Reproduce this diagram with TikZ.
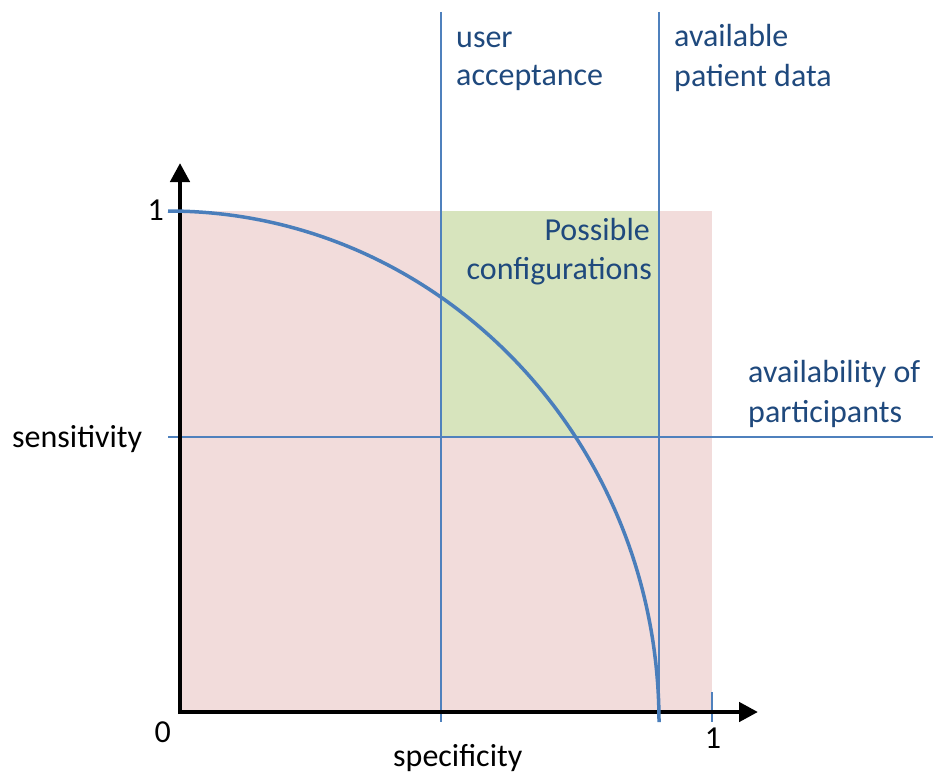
\documentclass[tikz,border=0pt]{standalone}
\usepackage{fontspec}
\setmainfont{Carlito}
\usetikzlibrary{arrows.meta}
\definecolor{pinkbg}{HTML}{F2DCDB}
\definecolor{greenbg}{HTML}{D7E4BD}
\definecolor{lineblue}{HTML}{4F81BD}
\definecolor{curveblue}{HTML}{4A7EBB}
\definecolor{textblue}{HTML}{1F497D}
\tikzset{
  px/.style={x=1pt,y=-1pt},
  bluelabel/.style={font=\fontsize{32}{39}\selectfont, text=textblue, inner sep=0pt, anchor=base west},
  blacklabel/.style={font=\fontsize{32}{39}\selectfont, text=black, inner sep=0pt},
  guide/.style={draw=lineblue, line width=1.2pt},
  axis/.style={draw=black, line width=4.5pt, -{Triangle[length=19pt,width=19pt]}},
  frontier/.style={draw=curveblue, line width=3.5pt},
}
\begin{document}
\begin{tikzpicture}[px]
\useasboundingbox (0,0) rectangle (933,776);
% regions
\fill[pinkbg] (180,211) rectangle (712,712);
\fill[greenbg] (441,211) rectangle (659,437);
% coordinates
\coordinate (ytip) at (180,163);
\coordinate (xtip) at (758,712);
\coordinate (ua1) at (441,12);
\coordinate (ua2) at (441,722);
\coordinate (pd1) at (659,12);
\coordinate (pd2) at (659,722);
\coordinate (ap1) at (168,437);
\coordinate (ap2) at (933,437);
\coordinate (t1) at (712,692);
\coordinate (t2) at (712,722);
\coordinate (c0) at (168,211);
\coordinate (c1) at (659,722);
\coordinate (yb) at (180,714);
\coordinate (xb) at (178,712);
% guide lines
\draw[guide] (ua1) -- (ua2);
\draw[guide] (pd1) -- (pd2);
\draw[guide] (ap1) -- (ap2);
\draw[guide] (t1) -- (t2);
% axes
\draw[axis] (yb) -- (ytip);
\draw[axis] (xb) -- (xtip);
% curve
\draw[frontier] (c0) .. controls (439.2,211) and (659,439.8) .. (c1);
% labels
\node[bluelabel] (ua) at (456,48) {user};
\node[bluelabel] (ub) at (456,85) {acceptance};
\node[bluelabel] (pa) at (674,47) {available};
\node[bluelabel] (pb) at (674,86) {patient data};
\node[bluelabel] (aa) at (748,382) {availability of};
\node[bluelabel] (ab) at (748,422) {participants};
\node[bluelabel, anchor=base east] (pc1) at (650,240) {Possible};
\node[bluelabel, anchor=base east] (pc2) at (652,279) {configurations};
\node[blacklabel, anchor=base west] (sens) at (12,447) {sensitivity};
\node[blacklabel, anchor=base west] (spec) at (393,766) {specificity};
\node[blacklabel, anchor=base east] (one1) at (164,220) {1};
\node[blacklabel, anchor=base east] (zero) at (171,742) {0};
\node[blacklabel, anchor=base] (one2) at (713,748) {1};
\end{tikzpicture}
\end{document}
